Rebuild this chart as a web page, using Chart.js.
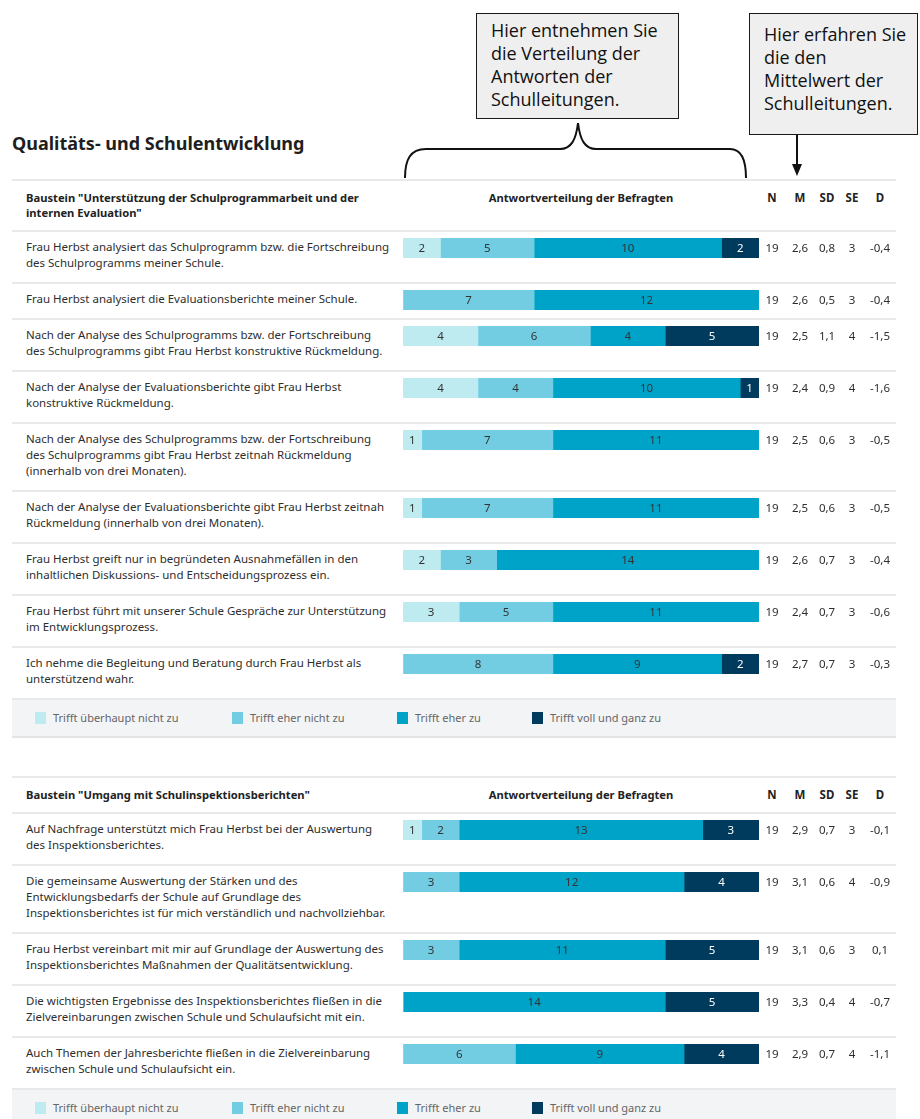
<!DOCTYPE html>
<html>
<head>
<meta charset="utf-8">
<script src="https://cdn.jsdelivr.net/npm/chart.js@4"></script>
<style>
  body { margin: 0; background: #fff; font-family: "Noto Sans", sans-serif; color: #333; }
  #page { position: relative; width: 920px; height: 1119px; overflow: hidden; }
  .callout { position: absolute; box-sizing: border-box; background: #efefef; border: 1.5px solid #1a1a1a;
             font-family: "Open Sans", sans-serif; font-size: 18px; line-height: 23px; color: #111; }
  #heading { position: absolute; left: 12px; top: 131px; font-size: 18px; font-weight: bold; color: #1e1e1e; }
  .block { position: absolute; left: 12px; width: 884px; }
  .head { position: relative; box-sizing: border-box; border-top: 2px solid #e8e9eb; font-size: 11.2px;
          font-weight: bold; line-height: 15px; color: #222; }
  .head .title { padding: 9px 0 0 14px; white-space: pre-line; }
  .row { position: relative; box-sizing: border-box; border-top: 2px solid #e8e9eb; padding: 7px 0 11px 14px;
         font-size: 11.5px; line-height: 16px; color: #2e2e2e; }
  .row .txt { white-space: pre-line; width: 385px; }
  .row canvas { position: absolute; left: 391px; top: 6px; }
  .cell { position: absolute; width: 34px; text-align: center; font-size: 11.5px; line-height: 16px; }
  .legend { position: relative; box-sizing: border-box; height: 40px; background: #f3f4f6;
            border-top: 2px solid #e8e9eb; border-bottom: 2px solid #e2e4e6; font-size: 11px; color: #666; }
  .legend .item { position: absolute; top: 11px; line-height: 14px; }
  .legend .sw { display: inline-block; width: 11px; height: 12px; vertical-align: -2px; margin-right: 7px; }
</style>
</head>
<body>
<div id="page">
  <div class="callout" style="left:476px;top:13px;width:203px;height:106px;padding:5px 0 0 14px;">Hier entnehmen Sie<br>die Verteilung der<br>Antworten der<br>Schulleitungen.</div>
  <div class="callout" style="left:749px;top:13px;width:169px;height:122px;padding:9px 0 0 14px;">Hier erfahren Sie<br>die den<br>Mittelwert der<br>Schulleitungen.</div>
  <svg width="920" height="200" style="position:absolute;left:0;top:0">
    <path d="M405,178 C405,160 410,149 426,149 L560,149 C571,149 576,140 578,123 C580,140 585,149 596,149 L730,149 C742,149 746,160 746,178"
          fill="none" stroke="#111" stroke-width="2"/>
    <line x1="797" y1="135" x2="797" y2="166" stroke="#111" stroke-width="2"/>
    <path d="M792,164 L802,164 L797,176 Z" fill="#111"/>
  </svg>
  <div id="heading">Qualitäts- und Schulentwicklung</div>
  <div class="block" id="tableA" style="top:179px"></div>
  <div class="block" id="tableB" style="top:776px"></div>
</div>

<script>
const seriesNames = ["Trifft überhaupt nicht zu", "Trifft eher nicht zu", "Trifft eher zu", "Trifft voll und ganz zu"];
const seriesColors = ["#bdebf0", "#72cde3", "#00a3c8", "#003a5d"];
const statHeads = ["N", "M", "SD", "SE", "D"];

// Baustein 1
const titleA = 'Baustein "Unterstützung der Schulprogrammarbeit und der\ninternen Evaluation"';
const itemsA = [
  "Frau Herbst analysiert das Schulprogramm bzw. die Fortschreibung\ndes Schulprogramms meiner Schule.",
  "Frau Herbst analysiert die Evaluationsberichte meiner Schule.",
  "Nach der Analyse des Schulprogramms bzw. der Fortschreibung\ndes Schulprogramms gibt Frau Herbst konstruktive Rückmeldung.",
  "Nach der Analyse der Evaluationsberichte gibt Frau Herbst\nkonstruktive Rückmeldung.",
  "Nach der Analyse des Schulprogramms bzw. der Fortschreibung\ndes Schulprogramms gibt Frau Herbst zeitnah Rückmeldung\n(innerhalb von drei Monaten).",
  "Nach der Analyse der Evaluationsberichte gibt Frau Herbst zeitnah\nRückmeldung (innerhalb von drei Monaten).",
  "Frau Herbst greift nur in begründeten Ausnahmefällen in den\ninhaltlichen Diskussions- und Entscheidungsprozess ein.",
  "Frau Herbst führt mit unserer Schule Gespräche zur Unterstützung\nim Entwicklungsprozess.",
  "Ich nehme die Begleitung und Beratung durch Frau Herbst als\nunterstützend wahr."
];
const notAtAllA = [2, 0, 4, 4, 1, 1, 2, 3, 0];
const ratherNotA = [5, 7, 6, 4, 7, 7, 3, 5, 8];
const ratherYesA = [10, 12, 4, 10, 11, 11, 14, 11, 9];
const fullyA = [2, 0, 5, 1, 0, 0, 0, 0, 2];
const nA = [19, 19, 19, 19, 19, 19, 19, 19, 19];
const meanA = [2.6, 2.6, 2.5, 2.4, 2.5, 2.5, 2.6, 2.4, 2.7];
const sdA = [0.8, 0.5, 1.1, 0.9, 0.6, 0.6, 0.7, 0.7, 0.7];
const seA = [3, 3, 4, 4, 3, 3, 3, 3, 3];
const dA = [-0.4, -0.4, -1.5, -1.6, -0.5, -0.5, -0.4, -0.6, -0.3];

// Baustein 2
const titleB = 'Baustein "Umgang mit Schulinspektionsberichten"';
const itemsB = [
  "Auf Nachfrage unterstützt mich Frau Herbst bei der Auswertung\ndes Inspektionsberichtes.",
  "Die gemeinsame Auswertung der Stärken und des\nEntwicklungsbedarfs der Schule auf Grundlage des\nInspektionsberichtes ist für mich verständlich und nachvollziehbar.",
  "Frau Herbst vereinbart mit mir auf Grundlage der Auswertung des\nInspektionsberichtes Maßnahmen der Qualitätsentwicklung.",
  "Die wichtigsten Ergebnisse des Inspektionsberichtes fließen in die\nZielvereinbarungen zwischen Schule und Schulaufsicht mit ein.",
  "Auch Themen der Jahresberichte fließen in die Zielvereinbarung\nzwischen Schule und Schulaufsicht ein."
];
const notAtAllB = [1, 0, 0, 0, 0];
const ratherNotB = [2, 3, 3, 0, 6];
const ratherYesB = [13, 12, 11, 14, 9];
const fullyB = [3, 4, 5, 5, 4];
const nB = [19, 19, 19, 19, 19];
const meanB = [2.9, 3.1, 3.1, 3.3, 2.9];
const sdB = [0.7, 0.6, 0.6, 0.4, 0.7];
const seB = [3, 4, 3, 4, 4];
const dB = [-0.1, -0.9, 0.1, -0.7, -1.1];

Chart.defaults.font.family = '"Noto Sans", sans-serif';

const statX = [760, 788, 815, 840, 868];
const legendX = [23, 220, 385, 520];

const valueLabels = {
  id: "valueLabels",
  afterDatasetsDraw(chart) {
    const ctx = chart.ctx;
    ctx.save();
    ctx.font = '11.5px "Noto Sans"';
    ctx.textAlign = "center";
    ctx.textBaseline = "middle";
    chart.data.datasets.forEach((ds, i) => {
      chart.getDatasetMeta(i).data.forEach((bar, j) => {
        const v = ds.data[j];
        if (!v) return;
        const p = bar.getCenterPoint();
        ctx.fillStyle = i === 3 ? "#ffffff" : "#333333";
        ctx.fillText(String(v), p.x, p.y + 0.5);
      });
    });
    ctx.restore();
  }
};

function fmt(v) {
  return Number.isInteger(v) ? String(v) : v.toFixed(1).replace(".", ",");
}

function addCell(parent, x, top, text) {
  const c = document.createElement("div");
  c.className = "cell";
  c.style.left = (x - 17) + "px";
  c.style.top = top + "px";
  c.textContent = text;
  parent.appendChild(c);
}

function buildTable(el, title, headHeight, items, series, n, stats) {
  const head = document.createElement("div");
  head.className = "head";
  head.style.height = headHeight + "px";
  const t = document.createElement("div");
  t.className = "title";
  t.textContent = title;
  head.appendChild(t);
  const mid = document.createElement("div");
  mid.style.cssText = "position:absolute;left:391px;width:356px;top:9px;text-align:center";
  mid.textContent = "Antwortverteilung der Befragten";
  head.appendChild(mid);
  statHeads.forEach((h, k) => addCell(head, statX[k], 9, h));
  el.appendChild(head);

  items.forEach((label, i) => {
    const row = document.createElement("div");
    row.className = "row";
    const txt = document.createElement("div");
    txt.className = "txt";
    txt.textContent = label;
    row.appendChild(txt);
    const cv = document.createElement("canvas");
    cv.width = 356;
    cv.height = 20;
    row.appendChild(cv);
    const vals = [n[i]].concat(stats.map(s => s[i]));
    vals.forEach((v, k) => addCell(row, statX[k], 8, fmt(v)));
    el.appendChild(row);

    new Chart(cv, {
      type: "bar",
      data: {
        labels: [""],
        datasets: seriesNames.map((name, s) => ({
          label: name,
          data: [series[s][i]],
          backgroundColor: seriesColors[s],
          borderWidth: 0,
          barPercentage: 1,
          categoryPercentage: 1
        }))
      },
      options: {
        indexAxis: "y",
        responsive: false,
        animation: false,
        devicePixelRatio: 1,
        layout: { padding: 0 },
        scales: {
          x: { stacked: true, min: 0, max: n[i], display: false },
          y: { stacked: true, display: false }
        },
        plugins: { legend: { display: false }, tooltip: { enabled: false } }
      },
      plugins: [valueLabels]
    });
  });

  const lg = document.createElement("div");
  lg.className = "legend";
  seriesNames.forEach((name, s) => {
    const it = document.createElement("div");
    it.className = "item";
    it.style.left = legendX[s] + "px";
    it.innerHTML = '<span class="sw" style="background:' + seriesColors[s] + '"></span>';
    it.appendChild(document.createTextNode(name));
    lg.appendChild(it);
  });
  el.appendChild(lg);
}

buildTable(document.getElementById("tableA"), titleA, 51, itemsA,
  [notAtAllA, ratherNotA, ratherYesA, fullyA], nA, [meanA, sdA, seA, dA]);
buildTable(document.getElementById("tableB"), titleB, 36, itemsB,
  [notAtAllB, ratherNotB, ratherYesB, fullyB], nB, [meanB, sdB, seB, dB]);
</script>
</body>
</html>
